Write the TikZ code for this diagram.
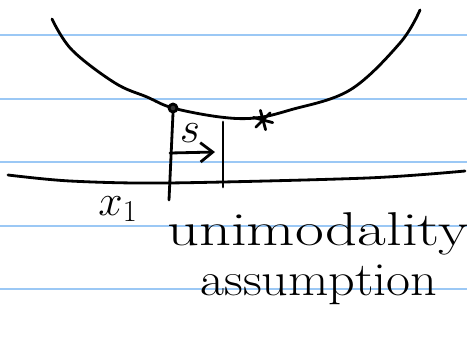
\documentclass[tikz,border=0pt]{standalone}
\usetikzlibrary{arrows.meta}
\definecolor{ruleblue}{RGB}{155,200,245}
\begin{document}
\begin{tikzpicture}[x=0.02cm, y=-0.02cm, line width=1.6pt, line cap=round, line join=round,
    rule/.style={ruleblue, line width=1.1pt},
    ink/.style={black, line width=1.6pt},
    hand/.style={font=\fontsize{27}{27}\selectfont, inner sep=0pt, anchor=base}]
    \useasboundingbox (0,0) rectangle (467,336);
    % ruled paper
    \foreach \y in {35,99,162,226,289}
        \draw[rule] (0,\y) -- (467,\y);

    % function
    \draw[ink] plot[smooth, tension=0.6] coordinates
        {(52,19) (72,50) (115,83) (147,97) (173,108) (220,117) (255,118)
         (290,110) (350,90) (400,43) (420,10)};
    % axis
    \draw[ink] plot[smooth, tension=0.5] coordinates
        {(8,175) (70,181) (167,183) (367,178) (465,171)};

    % current point and optimum
    \node[draw, circle, ink, minimum size=0.16cm, inner sep=0pt, fill=black!80]
    (xk) at (173,108) {};
    \coordinate (opt) at (263,120);
    \foreach \a in {75,135,195}
        \draw[ink] (opt) ++(\a:10) -- ++(\a+180:20);

    % step
    \coordinate (xkfoot) at (169,200);
    \coordinate (steptop) at (223,122);
    \coordinate (stepfoot) at (223,187);
    \draw[ink] (xk.south) -- (xkfoot);
    \draw[ink] (steptop) -- (stepfoot);
    \coordinate (arrstart) at (170,153);
    \coordinate (arrend) at (215,152);
    \draw[ink, -{Straight Barb[length=7pt, width=11pt]}] (arrstart) -- (arrend);
    \node[hand, font=\fontsize{26}{26}\selectfont] (s) at (190,142) {$s$};

    % labels
    \node[hand, font=\fontsize{26}{26}\selectfont] (xlabel) at (118,215) {$x_1$};
    \node[hand] (note) at (318,245) {\scalebox{1.32}[1]{unimodality}};
    \node[hand] (note2) at (319,295) {\scalebox{1.1}[1]{assumption}};
\end{tikzpicture}
\end{document}
